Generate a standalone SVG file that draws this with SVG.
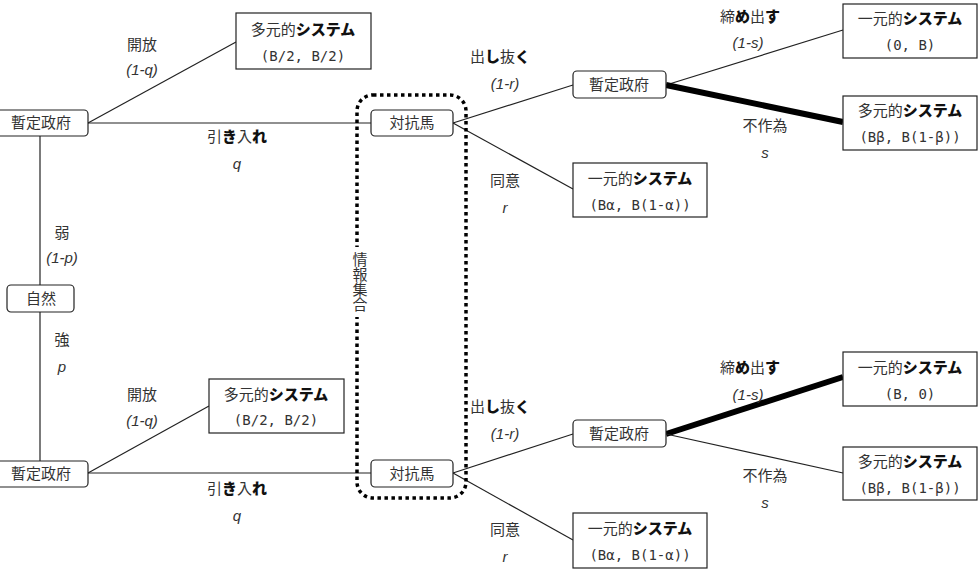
<svg xmlns="http://www.w3.org/2000/svg" width="979" height="573" viewBox="0 0 979 573">
<style>
  .bg{fill:#fff}
  .rnode{fill:#fff;stroke:#222;stroke-width:1.2}
  .leaf{fill:#fff;stroke:#222;stroke-width:1.2}
  .t{font-family:"Noto Sans CJK JP","Noto Sans",sans-serif;font-size:15px;fill:#333;text-anchor:middle}
  .k{font-weight:900;fill:#111}
  .pay{font-family:"DejaVu Sans Mono","Liberation Mono",monospace;font-size:14px;fill:#333;text-anchor:middle}
  .it{font-family:"Liberation Sans","Noto Sans",sans-serif;font-style:italic;font-size:15px;fill:#333;text-anchor:middle}
  .e{stroke:#222;stroke-width:1.2;fill:none}
  .thick{stroke:#000;stroke-width:6;fill:none}
  .info{fill:none;stroke:#000;stroke-width:3.5;stroke-dasharray:3.5 3.5}
  .vt{font-family:"Noto Sans CJK JP",sans-serif;font-size:15px;fill:#333;writing-mode:vertical-rl;text-anchor:middle}
</style>
<rect class="bg" x="0" y="0" width="979" height="573"/>

<g id="connectors">
  <line class="e" x1="40" y1="136" x2="40" y2="285"/>
  <line class="e" x1="40" y1="312" x2="40" y2="461"/>
  <line class="e" x1="88" y1="123" x2="236" y2="42"/>
  <line class="e" x1="88" y1="123" x2="371" y2="123"/>
  <line class="e" x1="88" y1="473" x2="209" y2="406"/>
  <line class="e" x1="88" y1="473" x2="371" y2="473"/>
  <line class="e" x1="453" y1="123" x2="573" y2="85"/>
  <line class="e" x1="453" y1="123" x2="573" y2="189"/>
  <line class="e" x1="666" y1="85" x2="843" y2="30"/>
  <line class="thick" x1="666" y1="85" x2="843" y2="122"/>
  <line class="e" x1="453" y1="473" x2="573" y2="434"/>
  <line class="e" x1="453" y1="473" x2="573" y2="540"/>
  <line class="thick" x1="666" y1="434" x2="843" y2="377"/>
  <line class="e" x1="666" y1="434" x2="843" y2="473"/>
</g>

<g id="info-set">
  <rect class="info" x="357" y="95" width="109" height="403" rx="16"/>
  <rect class="bg" x="351" y="247" width="18" height="70"/>
  <text class="vt" x="360" y="282">情報集合</text>
</g>

<g id="labels">
  <text class="t" x="142" y="50">開放</text>
  <text class="it" x="142" y="75">(1-q)</text>
  <text class="t" x="237" y="142">引<tspan class="k">き</tspan>入<tspan class="k">れ</tspan></text>
  <text class="it" x="237" y="169">q</text>
  <text class="t" x="62" y="238">弱</text>
  <text class="it" x="62" y="263">(1-p)</text>
  <text class="t" x="62" y="345">強</text>
  <text class="it" x="62" y="372">p</text>
  <text class="t" x="142" y="400">開放</text>
  <text class="it" x="142" y="426">(1-q)</text>
  <text class="t" x="237" y="494">引<tspan class="k">き</tspan>入<tspan class="k">れ</tspan></text>
  <text class="it" x="237" y="521">q</text>

  <text class="t" x="500" y="62">出<tspan class="k">し</tspan>抜<tspan class="k">く</tspan></text>
  <text class="it" x="505" y="89">(1-r)</text>
  <text class="t" x="505" y="186">同意</text>
  <text class="it" x="505" y="213">r</text>
  <text class="t" x="750" y="22">締<tspan class="k">め</tspan>出<tspan class="k">す</tspan></text>
  <text class="it" x="748" y="48">(1-s)</text>
  <text class="t" x="765" y="131">不作為</text>
  <text class="it" x="765" y="158">s</text>

  <text class="t" x="500" y="412">出<tspan class="k">し</tspan>抜<tspan class="k">く</tspan></text>
  <text class="it" x="505" y="439">(1-r)</text>
  <text class="t" x="505" y="535">同意</text>
  <text class="it" x="505" y="562">r</text>
  <text class="t" x="750" y="373">締<tspan class="k">め</tspan>出<tspan class="k">す</tspan></text>
  <text class="it" x="748" y="400">(1-s)</text>
  <text class="t" x="765" y="481">不作為</text>
  <text class="it" x="765" y="508">s</text>
</g>

<g id="gov-top">
  <rect class="rnode" x="-4" y="110" width="92" height="26" rx="4"/>
  <text class="t" x="41" y="128">暫定政府</text>
</g>
<g id="nature">
  <rect class="rnode" x="7" y="285" width="67" height="27" rx="4"/>
  <text class="t" x="41" y="304">自然</text>
</g>
<g id="gov-bottom">
  <rect class="rnode" x="-4" y="461" width="92" height="26" rx="4"/>
  <text class="t" x="41" y="479">暫定政府</text>
</g>
<g id="leaf-top-open">
  <rect class="leaf" x="236" y="13" width="135" height="56"/>
  <text class="t" x="303" y="35">多元的<tspan class="k">システム</tspan></text>
  <text class="pay" x="303" y="61">(B/2, B/2)</text>
</g>
<g id="leaf-bottom-open">
  <rect class="leaf" x="209" y="379" width="135" height="54"/>
  <text class="t" x="276" y="400">多元的<tspan class="k">システム</tspan></text>
  <text class="pay" x="276" y="425">(B/2, B/2)</text>
</g>
<g id="rival-top">
  <rect class="rnode" x="371" y="110" width="82" height="26" rx="4"/>
  <text class="t" x="412" y="128">対抗馬</text>
</g>
<g id="rival-bottom">
  <rect class="rnode" x="371" y="460" width="82" height="27" rx="4"/>
  <text class="t" x="412" y="479">対抗馬</text>
</g>
<g id="gov2-top">
  <rect class="rnode" x="573" y="71" width="93" height="27" rx="4"/>
  <text class="t" x="619" y="90">暫定政府</text>
</g>
<g id="gov2-bottom">
  <rect class="rnode" x="573" y="420" width="93" height="27" rx="4"/>
  <text class="t" x="619" y="439">暫定政府</text>
</g>
<g id="leaf-top-agree">
  <rect class="leaf" x="573" y="163" width="134" height="54"/>
  <text class="t" x="640" y="184">一元的<tspan class="k">システム</tspan></text>
  <text class="pay" x="640" y="210">(Bα, B(1-α))</text>
</g>
<g id="leaf-top-exclude">
  <rect class="leaf" x="843" y="4" width="134" height="54"/>
  <text class="t" x="910" y="24">一元的<tspan class="k">システム</tspan></text>
  <text class="pay" x="910" y="50">(0, B)</text>
</g>
<g id="leaf-top-inaction">
  <rect class="leaf" x="843" y="96" width="134" height="54"/>
  <text class="t" x="910" y="116">多元的<tspan class="k">システム</tspan></text>
  <text class="pay" x="910" y="142">(Bβ, B(1-β))</text>
</g>
<g id="leaf-bottom-exclude">
  <rect class="leaf" x="843" y="352" width="134" height="54"/>
  <text class="t" x="910" y="373">一元的<tspan class="k">システム</tspan></text>
  <text class="pay" x="910" y="399">(B, 0)</text>
</g>
<g id="leaf-bottom-inaction">
  <rect class="leaf" x="843" y="447" width="134" height="53"/>
  <text class="t" x="910" y="467">多元的<tspan class="k">システム</tspan></text>
  <text class="pay" x="910" y="493">(Bβ, B(1-β))</text>
</g>
<g id="leaf-bottom-agree">
  <rect class="leaf" x="573" y="513" width="134" height="55"/>
  <text class="t" x="640" y="534">一元的<tspan class="k">システム</tspan></text>
  <text class="pay" x="640" y="560">(Bα, B(1-α))</text>
</g>
</svg>
